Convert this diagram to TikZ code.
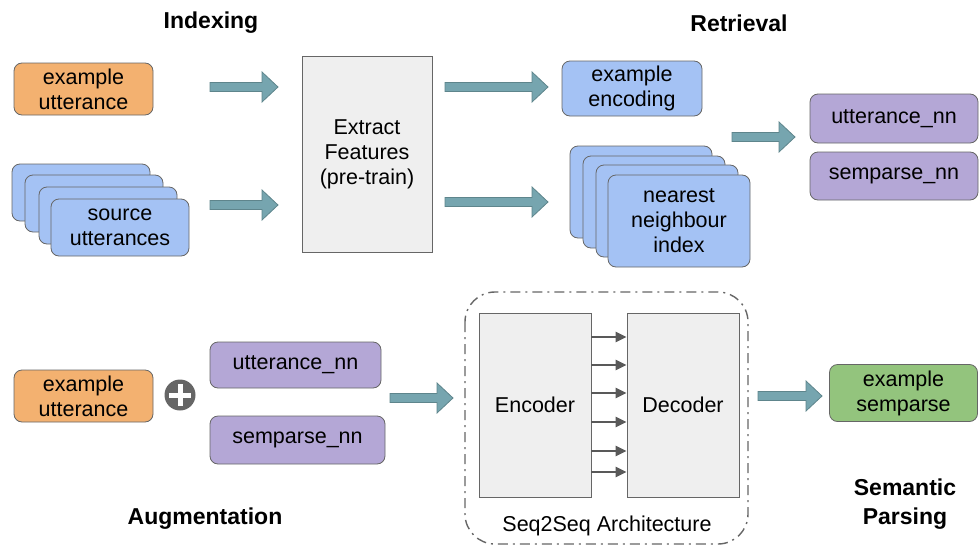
\documentclass[tikz,border=0pt]{standalone}
\usepackage{fontspec}
\setmainfont{Liberation Sans}
\usetikzlibrary{arrows.meta}
\definecolor{orangebox}{HTML}{F3B170}
\definecolor{bluebox}{HTML}{A4C2F4}
\definecolor{purplebox}{HTML}{B4A7D6}
\definecolor{greenbox}{HTML}{93C47D}
\definecolor{graybox}{HTML}{EFEFEF}
\definecolor{edgegray}{HTML}{666666}
\definecolor{arrowfill}{HTML}{76A5AF}
\definecolor{arrowedge}{HTML}{5E858C}
\definecolor{smallarrow}{HTML}{595959}
\tikzset{
  box/.style={draw=edgegray, line width=0.8pt, rounded corners=8pt, align=center, inner sep=0pt,
    font=\fontsize{21.5}{25}\selectfont},
  sqbox/.style={draw=edgegray, line width=0.8pt, fill=graybox, align=center, inner sep=0pt,
    font=\fontsize{21.5}{25}\selectfont},
  title/.style={font=\fontsize{23}{29}\selectfont\bfseries, align=center},
  blockarrow/.style={fill=arrowfill, draw=arrowedge, line width=0.8pt, line join=miter},
  linkarrow/.style={draw=smallarrow, line width=2.2pt, -{Triangle[length=11pt,width=10pt]}},
  frame/.style={draw=edgegray, line width=1.4pt, rounded corners=30pt,
    dash pattern=on 10pt off 5pt on 2pt off 5pt}
}
% block arrow: x start, x end, y centre
\newcommand{\bigarrow}[3]{%
  \draw[blockarrow] (#1,#3-4.5) -- (#2-16,#3-4.5) -- (#2-16,#3-15) -- (#2,#3)
    -- (#2-16,#3+15) -- (#2-16,#3+4.5) -- (#1,#3+4.5) -- cycle;}
\begin{document}
\begin{tikzpicture}[x=1pt,y=-1pt]
\useasboundingbox (0,0) rectangle (979,546);

% titles
\node[title] (tindex) at (211,23) {Indexing};
\node[title] (tretr) at (739,23) {Retrieval};
\node[title] (taug) at (205,519) {Augmentation};
\node[title] (tsem) at (905,504) {Semantic\\Parsing};

% Indexing
\node[box, fill=orangebox, minimum width=139pt, minimum height=52pt] (ex1) at (83.5,89) {example\\utterance};
\node[box, fill=bluebox, minimum width=138pt, minimum height=57pt] (src1) at (81,192.5) {};
\node[box, fill=bluebox, minimum width=138pt, minimum height=57pt] (src2) at (94,203.5) {};
\node[box, fill=bluebox, minimum width=138pt, minimum height=57pt] (src3) at (108,215.5) {};
\node[box, fill=bluebox, minimum width=138pt, minimum height=57pt] (src4) at (120,227.5) {source\\utterances};

\node[sqbox, minimum width=130pt, minimum height=196pt] (feat) at (367,154) {Extract\\Features\\(pre-train)};

\bigarrow{210}{278}{87}
\bigarrow{210}{278}{205}
\bigarrow{445}{548}{87}
\bigarrow{445}{548}{202}

% Retrieval
\node[box, fill=bluebox, minimum width=140pt, minimum height=55pt] (enc) at (632,88.5) {example\\encoding};
\node[box, fill=bluebox, minimum width=142pt, minimum height=92pt] (nn1) at (641,192) {};
\node[box, fill=bluebox, minimum width=142pt, minimum height=92pt] (nn2) at (654,202) {};
\node[box, fill=bluebox, minimum width=142pt, minimum height=92pt] (nn3) at (667,211) {};
\node[box, fill=bluebox, minimum width=142pt, minimum height=92pt] (nn4) at (679,221) {nearest\\neighbour\\index};

\bigarrow{732}{795}{137}

\node[box, fill=purplebox, minimum width=168pt, minimum height=49pt] (unn) at (894,118.5) {utterance\_nn};
\node[box, fill=purplebox, minimum width=168pt, minimum height=48pt] (snn) at (894,176) {semparse\_nn};

% Augmentation
\node[box, fill=orangebox, minimum width=139pt, minimum height=52pt] (ex2) at (83.5,396) {example\\utterance};
\node[circle, fill=edgegray, minimum size=31pt, inner sep=0pt] (plus) at (180,395) {};
\draw[white, line width=5pt] ([yshift=-11pt]plus.center) -- ([yshift=11pt]plus.center);
\draw[white, line width=5pt] ([xshift=-11pt]plus.center) -- ([xshift=11pt]plus.center);
\node[box, fill=purplebox, minimum width=171pt, minimum height=46pt] (unn2) at (295.5,365) {utterance\_nn};
\node[box, fill=purplebox, minimum width=175pt, minimum height=48pt] (snn2) at (297.5,440) {semparse\_nn};

\bigarrow{390}{453}{398}

% Seq2Seq
\draw[frame] (465,292) rectangle (748,544);
\node[sqbox, minimum width=112pt, minimum height=184pt] (encoder) at (535,405) {Encoder};
\node[sqbox, minimum width=112pt, minimum height=184pt] (decoder) at (683,405) {Decoder};
\foreach \yy in {337,365,393,422,451,472} {
  \draw[linkarrow] (encoder.east |- 0,\yy) -- (decoder.west |- 0,\yy);
}
\node[font=\fontsize{21.5}{25}\selectfont] (s2slabel) at (607,526) {Seq2Seq Architecture};

\bigarrow{758}{822}{396}

% Semantic parsing
\node[box, fill=greenbox, minimum width=148pt, minimum height=57pt] (sem) at (903.5,393) {example\\semparse};
\end{tikzpicture}
\end{document}
